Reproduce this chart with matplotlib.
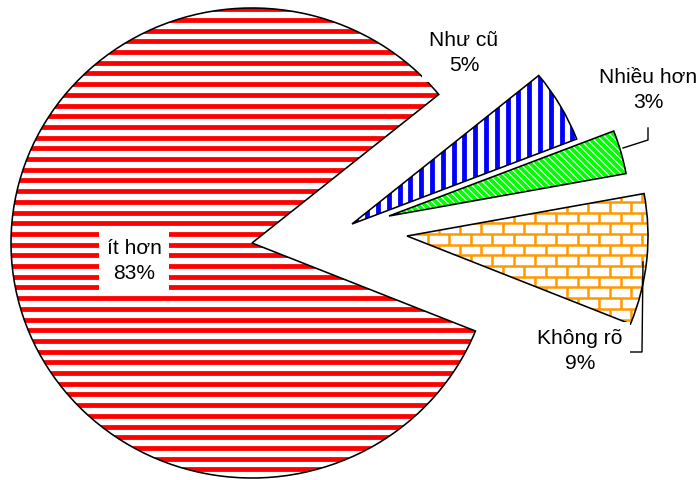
import matplotlib
matplotlib.use("Agg")
import matplotlib.pyplot as plt
import numpy as np
from matplotlib.collections import LineCollection
from matplotlib.patches import Wedge
from matplotlib.transforms import IdentityTransform

labels = ["ít hơn", "Như cũ", "Nhiều hơn", "Không rõ"]
values = [83, 5, 3, 9]
colors = ["#FF0000", "#0000FF", "#00FF00", "#FF9900"]

DPI = 64
W, H = 700, 480
CX, CY = 252, 243   # centre of the big slice, image pixels
RX, RY = 241, 235   # radius in pixels (the chart is a bit squashed)


def px(x, y):
    """image pixel (top-left origin) -> data coords"""
    return (x - CX) / RX, (CY - y) / RY


def pt(p):
    return p * 72 / DPI


# fill textures, in output pixels
def hlines(step):
    return [[(0, y), (W, y)] for y in np.arange(0, H + step, step)]


def vlines(step):
    return [[(x, 0), (x, H)] for x in np.arange(0, W + step, step)]


def diag(step):
    return [[(c, 0), (c - H, H)] for c in np.arange(0, W + H + step, step)]


def bricks(h):
    segs = hlines(h)
    for k, y in enumerate(np.arange(0, H, h)):
        xs = np.arange((k % 2) * h, W + 2 * h, 2 * h)
        segs += [[(x, y), (x, y + h)] for x in xs]
    return segs


plt.rcParams["font.family"] = ["Liberation Sans", "DejaVu Sans"]
fig = plt.figure(figsize=(W / DPI, H / DPI), dpi=DPI)
ax = fig.add_axes([0, 0, 1, 1])

wedges, _ = ax.pie(values, startangle=-22, counterclock=False, radius=1,
                   wedgeprops=dict(facecolor="white", linewidth=0))
ax.set_aspect("auto")
ax.set_xlim(px(0, 0)[0], px(W, 0)[0])
ax.set_ylim(px(0, H)[1], px(0, 0)[1])
ax.axis("off")

# the small slices are pulled out to these tips
tips = [px(252, 243), px(352, 224), px(389, 216), px(407, 236)]
textures = [(hlines(10.7), 4.8), (vlines(10.8), 4.8),
            (diag(7), 3.8), (bricks(10.7), 2.5)]

for w, tip, color, (segs, lw) in zip(wedges, tips, colors, textures):
    w.set_center(tip)
    lc = LineCollection(segs, colors=color, linewidths=pt(lw),
                        transform=IdentityTransform(), zorder=2)
    ax.add_collection(lc, autolim=False)
    lc.set_clip_path(w)
    ax.add_patch(Wedge(w.center, w.r, w.theta1, w.theta2, fill=False,
                       edgecolor="black", linewidth=pt(1.6), zorder=3))

# leader lines
for pts in ([(648, 128), (648, 140), (623, 148)],
            [(643, 262), (642, 352), (630, 352)]):
    xs, ys = zip(*[px(*p) for p in pts])
    ax.plot(xs, ys, color="black", lw=pt(1.4), zorder=3)

box = dict(boxstyle="square,pad=0.35", facecolor="white", edgecolor="none")
label_pos = [(134, 261), (464, 53), (648, 90), (580, 351)]
for lab, v, (x, y) in zip(labels, values, label_pos):
    ax.text(*px(x, y), f"{lab}\n{v}%", ha="center", va="center",
            fontsize=pt(21), linespacing=1.4, bbox=box, zorder=4)

fig.savefig("out.png", dpi=DPI)
